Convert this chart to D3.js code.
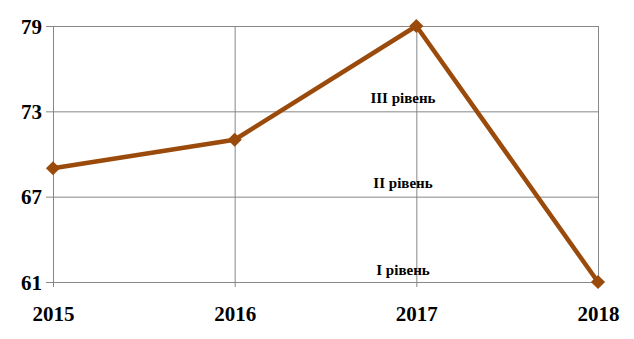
<!DOCTYPE html>
<html>
<head>
<meta charset="utf-8">
<script src="https://cdn.jsdelivr.net/npm/d3@7"></script>
<style>
  body { margin: 0; background: #fff; }
</style>
</head>
<body>
<svg id="chart" width="634" height="339"></svg>
<script>
// data
var years = ["2015", "2016", "2017", "2018"];
var values = [69, 71, 79, 61];
var yTicks = [61, 67, 73, 79];
var levelNames = ["І рівень", "ІІ рівень", "ІІІ рівень"];
var levelPos = [61.5, 67.6, 73.6];

var plotLeft = 53, plotRight = 598, plotTop = 26, plotBottom = 282,
	lineColor = "#9a4b0c",
	gridColor = "#878787",
	serif = "Liberation Serif";

var svg = d3.select("#chart");

var x = d3.scalePoint()
	.domain(years)
	.range([plotLeft, plotRight]);

var y = d3.scaleLinear()
	.domain([61, 79])
	.range([plotBottom, plotTop]);

// horizontal grid + y labels
var yAxis = d3.axisLeft(y)
	.tickValues(yTicks)
	.tickSize(-(plotRight - plotLeft))
	.tickSizeOuter(0)
	.tickPadding(11);

var gy = svg.append("g")
	.attr("transform", "translate(" + plotLeft + ",0)")
	.call(yAxis);
gy.select(".domain").remove();
gy.selectAll(".tick line")
	.attr("stroke", gridColor)
	.attr("x1", -7);
gy.selectAll(".tick text")
	.attr("font-size", 21)
	.attr("fill", "#000")
	.attr("font-family", serif)
	.attr("font-weight", "bold")
	.attr("dy", "0.34em");

// vertical grid + x labels
var xAxis = d3.axisBottom(x)
	.tickSize(-(plotBottom - plotTop))
	.tickSizeOuter(0)
	.tickPadding(24);

var gx = svg.append("g")
	.attr("transform", "translate(0," + plotBottom + ")")
	.call(xAxis);
gx.select(".domain").remove();
gx.selectAll(".tick line")
	.attr("stroke", gridColor)
	.attr("y1", 5);
gx.selectAll(".tick text")
	.attr("font-size", 21)
	.attr("fill", "#000")
	.attr("font-family", serif)
	.attr("font-weight", "bold");

// level labels
svg.selectAll(".level")
	.data(levelNames)
	.enter().append("text")
	.attr("class", "level")
	.attr("x", 403)
	.attr("y", (d, i) => y(levelPos[i]))
	.attr("text-anchor", "middle")
	.attr("font-family", serif)
	.attr("font-weight", "bold")
	.attr("font-size", 15)
	.attr("fill", "#000")
	.text(d => d);

// the line
var line = d3.line()
	.x((d, i) => x(years[i]))
	.y(d => y(d));

svg.append("path")
	.datum(values)
	.attr("fill", "none")
	.attr("stroke", lineColor)
	.attr("stroke-width", 4.5)
	.attr("stroke-linejoin", "round")
	.attr("d", line);

svg.selectAll(".marker")
	.data(values)
	.enter().append("path")
	.attr("class", "marker")
	.attr("fill", lineColor)
	.attr("d", d3.symbol().type(d3.symbolSquare).size(100))
	.attr("transform", (d, i) => "translate(" + x(years[i]) + "," + y(d) + ") rotate(45)");
</script>
</body>
</html>
